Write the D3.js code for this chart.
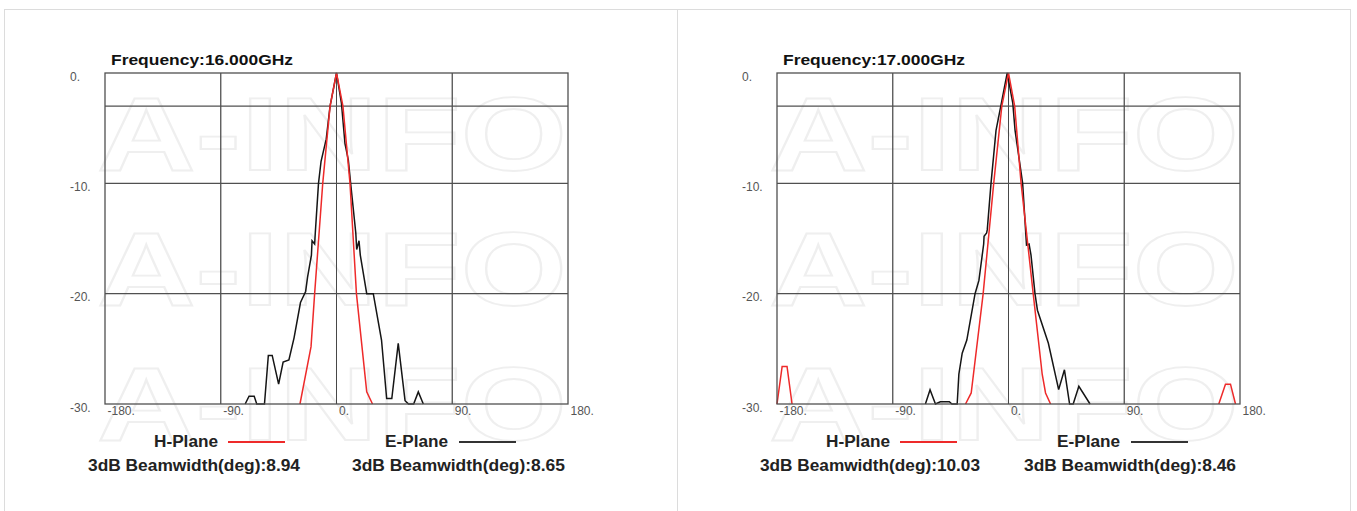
<!DOCTYPE html>
<html lang="en">
<head>
    <meta charset="UTF-8">
    <title>Radiation Patterns</title>
    <script src="https://d3js.org/d3.v7.min.js"></script>
    <style>
        body {
            margin: 0;
            background-color: #ffffff;
            font-family: "Liberation Sans", Arial, sans-serif;
        }
        .tick-label {
            font-size: 12px;
        }
        .title {
            font-size: 15px;
            font-weight: bold;
            fill: #111;
        }
        .legend {
            font-size: 16px;
            font-weight: bold;
            fill: #222;
        }
        .watermark {
            font-size: 104px;
            font-weight: bold;
            fill: none;
            stroke: #efefef;
            stroke-width: 1.8;
        }
    </style>
</head>
<body>
    <svg id="chart" width="1357" height="511"></svg>

    <script>
        // Angle ticks and level ticks
        const angleTicks = [-180, -90, 0, 90, 180];
        const levelTicks = [0, -10, -20, -30];
        const gridAngles = [-90, 0, 90];
        const gridLevels = [-3, -10, -20];

        // 16 GHz pattern, [angle deg, level dB]
        const hPlane16 = [[-28.4, -30], [-19.8, -24.8], [-17, -20], [-10.7, -10], [-5, -3], [0, 0],
            [5, -3], [10.5, -10], [15.5, -20], [23.5, -28.9], [28, -30]];
        const ePlane16 = [[-71, -30], [-68, -29.3], [-64, -29.3], [-62, -30], [-56, -30], [-53, -25.6],
            [-50, -25.6], [-45, -28.2], [-41.5, -26.2], [-37, -26], [-33, -24], [-28, -20.8], [-24, -19.8],
            [-22.5, -18.5], [-19.5, -16.5], [-19, -15.2], [-17, -15.5], [-16.5, -14.5], [-14, -10],
            [-12, -8], [-8, -6], [-5, -3], [0, 0], [3.8, -2.7], [6.6, -6.4], [9.2, -7.9], [11, -10],
            [15, -14.5], [15.7, -16], [17.5, -15.2], [18.5, -16.5], [23.5, -20], [28.6, -20], [35, -24.2],
            [39, -29.5], [43, -29.5], [48, -24.5], [53.3, -29.7], [56, -30], [60, -30], [63.6, -28.9],
            [67.5, -30]];

        // 17 GHz pattern
        const hPlane17 = [[-33.4, -30], [-29, -29], [-19.7, -20], [-11.5, -10], [-5.2, -3], [0, 0],
            [4.8, -3], [9.8, -10], [19.2, -20], [26.2, -27.3], [28.8, -29], [32.7, -30]];
        const hLobeLeft17 = [[-180, -30], [-176, -26.6], [-172.2, -26.6], [-168.3, -30]];
        const hLobeRight17 = [[163.5, -30], [168.7, -28.2], [172.6, -28.2], [176.5, -30]];
        const ePlane17 = [[-64.6, -30], [-61, -28.7], [-56.8, -30], [-53, -29.8], [-46, -29.8], [-44, -30],
            [-39.9, -30], [-38.6, -27.3], [-36, -25.4], [-32.4, -24.2], [-26, -20], [-23, -18.8],
            [-19.3, -15.5], [-19, -14.8], [-17, -14.5], [-16.5, -14.2], [-13.6, -10], [-9.7, -5.2],
            [-5.5, -2.7], [-1, 0], [3.3, -2.7], [5.1, -5.2], [11, -10], [14, -15.6], [16, -15.5],
            [17.5, -16.5], [20.6, -20], [22.5, -21.5], [31, -24.5], [39, -28.7], [43.5, -26.9],
            [47.5, -30], [50.3, -30], [54.7, -28.4], [63.4, -30]];

        const panels = [
            { left: 105, freq: "Frequency:16.000GHz", h: [hPlane16], e: [ePlane16], hbw: "8.94", ebw: "8.65",
              bwLen: [212, 213] },
            { left: 777, freq: "Frequency:17.000GHz", h: [hPlane17, hLobeLeft17, hLobeRight17], e: [ePlane17],
              hbw: "10.03", ebw: "8.46", bwLen: [220, 212] }
        ];

        const svg = d3.select("#chart");
        const plotTop = 73, width = 463, height = 331;

        // outer frame
        svg.append("rect")
            .attr("x", 4.5).attr("y", 9.5)
            .attr("width", 1346).attr("height", 520)
            .attr("fill", "none").attr("stroke", "#dcdcdc");
        svg.append("line")
            .attr("x1", 677.5).attr("x2", 677.5).attr("y1", 9.5).attr("y2", 511)
            .attr("stroke", "#dcdcdc");

        panels.forEach(p => {
            const g = svg.append("g").attr("transform", `translate(${p.left},${plotTop})`);

            const x = d3.scaleLinear().domain([-180, 180]).range([0, width]);
            const y = d3.scaleLinear().domain([-30, 0]).range([height, 0]);

            // watermark
            [97, 232, 367].forEach(b => {
                g.append("text")
                    .attr("class", "watermark")
                    .attr("x", -8).attr("y", b)
                    .attr("textLength", 470)
                    .attr("lengthAdjust", "spacingAndGlyphs")
                    .text("A-INFO");
            });

            // grid
            g.selectAll(".vgrid").data(gridAngles).enter().append("line")
                .attr("x1", d => x(d)).attr("x2", d => x(d))
                .attr("y1", 0).attr("y2", height)
                .attr("stroke", d => d === 0 ? "#333" : "#505050")
                .attr("stroke-width", d => d === 0 ? 0.9 : 1.3);
            g.selectAll(".hgrid").data(gridLevels).enter().append("line")
                .attr("x1", 0).attr("x2", width)
                .attr("y1", d => y(d)).attr("y2", d => y(d))
                .attr("stroke", "#505050").attr("stroke-width", 1.3);

            // curves
            const line = d3.line().x(d => x(d[0])).y(d => y(d[1]));
            p.e.forEach(s => {
                g.append("path").datum(s)
                    .attr("d", line)
                    .attr("fill", "none").attr("stroke", "#151515").attr("stroke-width", 1.5);
            });
            p.h.forEach(s => {
                g.append("path").datum(s)
                    .attr("d", line)
                    .attr("fill", "none").attr("stroke", "#ee2a2a").attr("stroke-width", 1.5);
            });

            // border
            g.append("rect")
                .attr("x", 0).attr("y", 0)
                .attr("width", width).attr("height", height)
                .attr("fill", "none").attr("stroke", "#505050").attr("stroke-width", 1.3);

            // axes labels
            const xAxis = g.append("g")
                .attr("transform", `translate(0,${height})`)
                .call(d3.axisBottom(x).tickValues(angleTicks).tickSize(0).tickFormat(d => d + "."));
            xAxis.select(".domain").remove();
            xAxis.selectAll("text")
                .attr("class", "tick-label")
                .attr("fill", "#555")
                .attr("text-anchor", "start")
                .attr("x", 2).attr("y", 2);

            const yAxis = g.append("g")
                .call(d3.axisLeft(y).tickValues(levelTicks).tickSize(0).tickFormat(d => d + "."));
            yAxis.select(".domain").remove();
            yAxis.selectAll("text")
                .attr("class", "tick-label")
                .attr("fill", "#555")
                .attr("text-anchor", "start")
                .attr("x", -35).attr("dy", "0.6em");

            // title
            g.append("text").attr("class", "title")
                .attr("x", 6).attr("y", -8)
                .attr("textLength", 182).attr("lengthAdjust", "spacingAndGlyphs")
                .text(p.freq);

            // legend
            g.append("text").attr("class", "legend").attr("x", 49).attr("y", 374)
                .attr("textLength", 64).attr("lengthAdjust", "spacingAndGlyphs").text("H-Plane");
            g.append("line").attr("x1", 123).attr("x2", 180).attr("y1", 369).attr("y2", 369)
                .attr("stroke", "#ee2a2a").attr("stroke-width", 2);
            g.append("text").attr("class", "legend").attr("x", 280).attr("y", 374)
                .attr("textLength", 63).attr("lengthAdjust", "spacingAndGlyphs").text("E-Plane");
            g.append("line").attr("x1", 354).attr("x2", 411).attr("y1", 369).attr("y2", 369)
                .attr("stroke", "#333").attr("stroke-width", 2);
            g.append("text").attr("class", "legend").attr("x", -17).attr("y", 398)
                .attr("textLength", p.bwLen[0]).attr("lengthAdjust", "spacingAndGlyphs")
                .text("3dB Beamwidth(deg):" + p.hbw);
            g.append("text").attr("class", "legend").attr("x", 247).attr("y", 398)
                .attr("textLength", p.bwLen[1]).attr("lengthAdjust", "spacingAndGlyphs")
                .text("3dB Beamwidth(deg):" + p.ebw);
        });
    </script>
</body>
</html>
